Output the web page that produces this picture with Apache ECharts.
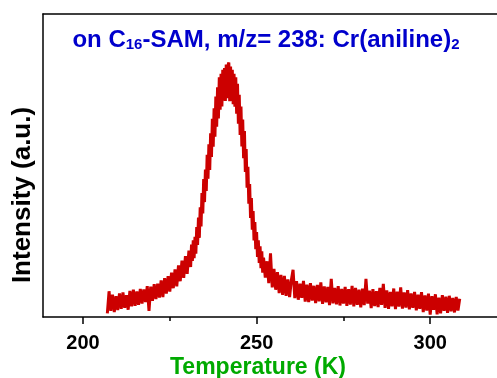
<!DOCTYPE html>
<html>
<head>
<meta charset="utf-8">
<script src="https://cdn.jsdelivr.net/npm/echarts@6/dist/echarts.min.js"></script>
<style>
  html, body { margin: 0; padding: 0; background: #fff; overflow: hidden; }
  #chart { width: 520px; height: 378px; }
</style>
</head>
<body>
<div id="chart"></div>
<script>
const temperature = [
  207.0, 207.5, 208.0, 208.5, 209.0, 209.5, 210.0, 210.5, 211.0, 211.5, 212.0, 212.5, 213.0, 213.5, 214.0, 214.5,
  215.0, 215.5, 216.0, 216.5, 217.0, 217.5, 218.0, 218.5, 219.0, 219.5, 220.0, 220.5, 221.0, 221.5, 222.0, 222.5,
  223.0, 223.5, 224.0, 224.5, 225.0, 225.5, 226.0, 226.5, 227.0, 227.5, 228.0, 228.5, 229.0, 229.5, 230.0, 230.5,
  231.00, 231.25, 231.50, 231.75, 232.00, 232.25, 232.50, 232.75, 233.00, 233.25, 233.50, 233.75,
  234.00, 234.25, 234.50, 234.75, 235.00, 235.25, 235.50, 235.75, 236.00, 236.25, 236.50, 236.75,
  237.00, 237.25, 237.50, 237.75, 238.00, 238.25, 238.50, 238.75, 239.00, 239.25, 239.50, 239.75,
  240.00, 240.25, 240.50, 240.75, 241.00, 241.25, 241.50, 241.75, 242.00, 242.25, 242.50, 242.75,
  243.00, 243.25, 243.50, 243.75, 244.00, 244.25, 244.50, 244.75, 245.00, 245.25, 245.50, 245.75,
  246.00, 246.25, 246.50, 246.75, 247.00, 247.25, 247.50, 247.75, 248.00, 248.25, 248.50, 248.75,
  249.00, 249.25, 249.50, 249.75, 250.00, 250.25, 250.50, 250.75, 251.00, 251.25, 251.50, 251.75, 252.00,
  252.5, 253.0, 253.5, 254.0, 254.5, 255.0, 255.5, 256.0, 256.5, 257.0, 257.5, 258.0, 258.5, 259.0, 259.5, 260.0,
  260.5, 261.0, 261.5, 262.0, 262.5, 263.0, 263.5, 264.0, 264.5, 265.0, 265.5, 266.0, 266.5, 267.0, 267.5, 268.0,
  268.5, 269.0, 269.5, 270.0, 270.5, 271.0, 271.5, 272.0, 272.5, 273.0, 273.5, 274.0, 274.5, 275.0, 275.5, 276.0,
  276.5, 277.0, 277.5, 278.0, 278.5, 279.0, 279.5, 280.0, 280.5, 281.0, 281.5, 282.0, 282.5, 283.0, 283.5, 284.0,
  284.5, 285.0, 285.5, 286.0, 286.5, 287.0, 287.5, 288.0, 288.5, 289.0, 289.5, 290.0, 290.5, 291.0, 291.5, 292.0,
  292.5, 293.0, 293.5, 294.0, 294.5, 295.0, 295.5, 296.0, 296.5, 297.0, 297.5, 298.0, 298.5, 299.0, 299.5, 300.0,
  300.5, 301.0, 301.5, 302.0, 302.5, 303.0, 303.5, 304.0, 304.5, 305.0, 305.5, 306.0, 306.5, 307.0, 307.5, 308.0,
  308.5
];
const intensity = [
  1.2, 8.5, 2.0, 7.4, 1.6, 6.9, 2.3, 7.8, 2.7, 8.1, 3.0, 7.2, 2.4, 8.6, 3.5, 9.0,
  3.7, 8.4, 4.0, 9.3, 4.4, 9.1, 4.9, 10.2, 2.0, 10.0, 5.3, 10.8, 5.9, 11.0, 6.4, 12.1,
  6.6, 12.8, 7.7, 13.5, 8.4, 14.6, 9.5, 15.7, 10.1, 17.0, 11.8, 18.6, 12.9, 20.1, 14.2, 21.9,
  16.5, 23.9, 18.5, 25.3, 19.4, 26.5, 20.9, 29.7, 23.8, 32.8, 26.1, 36.2,
  29.9, 40.9, 34.2, 45.5, 37.9, 48.7, 41.6, 53.5, 45.6, 57.0, 48.5, 60.6,
  52.8, 65.4, 56.2, 68.9, 59.5, 72.8, 62.8, 75.8, 65.5, 79.1, 68.4, 80.3,
  69.5, 81.6, 71.4, 82.2, 71.3, 83.3, 72.2, 83.0, 84.0, 71.2, 82.7, 71.3,
  81.6, 70.2, 80.3, 69.4, 79.1, 67.1, 77.0, 63.8, 73.3, 60.1, 69.5, 56.3,
  65.2, 52.4, 61.4, 47.9, 55.4, 42.7, 49.6, 37.4, 43.9, 32.7, 39.3, 28.8,
  35.0, 25.3, 31.3, 22.4, 28.0, 19.8, 25.3, 17.8, 23.3, 16.1, 21.7, 14.6, 19.6,
  13.0, 18.4, 11.2, 21.0, 9.8, 15.9, 9.0, 14.8, 7.9, 13.9, 7.3, 13.6, 7.0, 12.4, 6.6, 12.1,
  15.6, 6.2, 11.8, 5.7, 11.0, 6.3, 11.9, 5.1, 10.7, 4.9, 11.2, 5.4, 10.3, 4.6, 10.6, 5.2,
  11.4, 4.3, 10.1, 4.8, 9.9, 3.9, 12.6, 4.5, 9.6, 4.2, 10.2, 3.8, 9.3, 4.4, 9.9, 3.7,
  9.2, 4.1, 10.3, 3.5, 9.6, 4.0, 9.0, 3.2, 9.4, 3.9, 12.6, 4.4, 8.7, 2.9, 9.2, 3.6,
  8.5, 3.3, 9.6, 4.0, 10.9, 3.0, 8.8, 2.7, 8.3, 3.5, 9.4, 2.6, 8.4, 3.4, 9.8, 2.8,
  8.1, 3.1, 8.9, 2.5, 7.8, 3.0, 8.3, 2.2, 7.4, 2.7, 8.2, 1.6, 7.1, 2.1, 7.7, 0.8,
  6.9, 2.4, 7.5, 0.9, 6.4, 1.2, 7.2, 2.0, 6.7, 1.4, 7.0, 1.9, 6.3, 1.5, 6.6, 2.1,
  6.0
];
const majorTicks = [200, 250, 300];
const minorTicks = [225, 275];
const xMin = 188.47;
const xMax = 325.87;

const font = 'Arial, "Liberation Sans", sans-serif';
const chart = echarts.init(document.getElementById('chart'));

chart.setOption({
  animation: false,
  backgroundColor: '#fff',
  grid: { left: 43, top: 14, right: 0, bottom: 61 },
  xAxis: [
    {
      type: 'value', min: xMin, max: xMax,
      axisLine: { lineStyle: { color: '#000', width: 1.5 } },
      axisTick: { customValues: majorTicks, length: 7, lineStyle: { color: '#000', width: 1.5 } },
      axisLabel: { customValues: majorTicks, color: '#000', fontSize: 20, fontWeight: 'bold', fontFamily: font, margin: 16 },
      splitLine: { show: false },
    },
    {
      type: 'value', min: xMin, max: xMax, position: 'bottom',
      axisLine: { show: false },
      axisTick: { customValues: minorTicks, length: 4, lineStyle: { color: '#000', width: 1.5 } },
      axisLabel: { show: false },
      splitLine: { show: false },
    },
    {
      type: 'value', min: xMin, max: xMax, position: 'top',
      axisLine: { lineStyle: { color: '#000', width: 1.5 } },
      axisTick: { show: false },
      axisLabel: { show: false },
      splitLine: { show: false },
    },
  ],
  yAxis: {
    type: 'value', min: 0, max: 100,
    axisLine: { show: true, lineStyle: { color: '#000', width: 1.5 } },
    axisTick: { show: false },
    axisLabel: { show: false },
    splitLine: { show: false },
  },
  graphic: [
    {
      type: 'text', x: 266, y: 40,
      style: {
        text: '{m|on C}{s|16}{m|-SAM, m/z= 238: Cr(aniline)}{s|2}',
        align: 'center', verticalAlign: 'middle',
        rich: {
          m: { fontSize: 24, fontWeight: 'bold', fontFamily: font, fill: '#0000cc', lineHeight: 24, verticalAlign: 'bottom' },
          s: { fontSize: 15, fontWeight: 'bold', fontFamily: font, fill: '#0000cc', lineHeight: 15, verticalAlign: 'bottom' },
        },
      },
    },
    {
      type: 'text', x: 258, y: 368,
      style: { text: 'Temperature (K)', align: 'center', verticalAlign: 'middle', fontSize: 23, fontWeight: 'bold', fontFamily: font, fill: '#00aa00' },
    },
    {
      type: 'text', x: 23, y: 195, rotation: Math.PI / 2,
      style: { text: 'Intensity (a.u.)', align: 'center', verticalAlign: 'middle', fontSize: 26, fontWeight: 'bold', fontFamily: font, fill: '#000' },
    },
  ],
  series: [
    {
      type: 'line', showSymbol: false, symbol: 'none',
      data: temperature.map((t, i) => [t, intensity[i]]),
      lineStyle: { color: '#cc0000', width: 3 },
    },
  ],
});
</script>
</body>
</html>
